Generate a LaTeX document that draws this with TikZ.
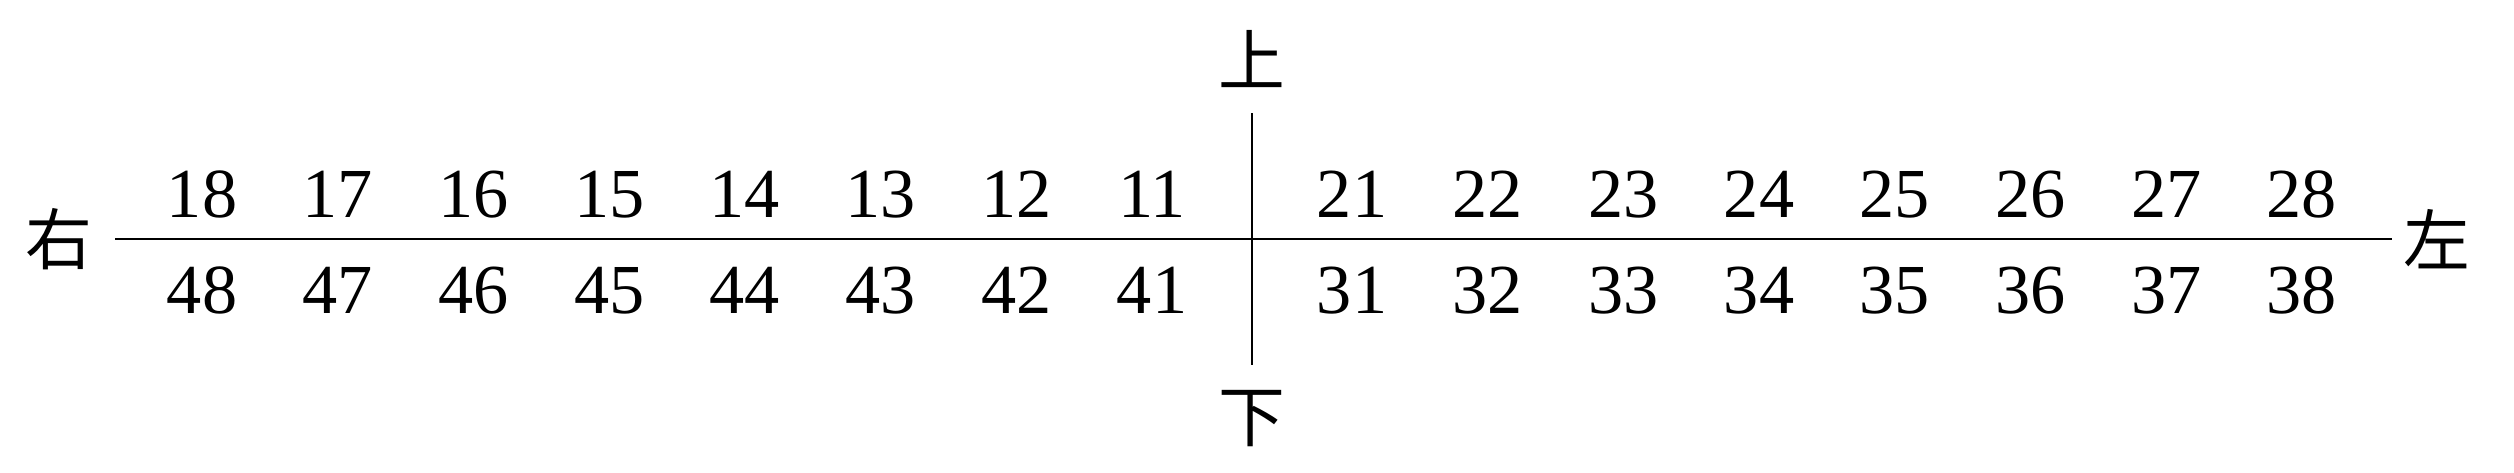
\documentclass[tikz,border=0pt]{standalone}
\usepackage{fontspec}
\setmainfont{Liberation Serif}
\newfontfamily\cjk{Noto Sans CJK SC}
\begin{document}
\begin{tikzpicture}[
  tooth/.style={anchor=base,inner sep=0pt,font=\fontsize{20}{24}\selectfont},
  side/.style={inner sep=0pt,font=\cjk\fontsize{19}{22}\selectfont}]
\useasboundingbox (0,0) rectangle (25.14,4.72);

\node[side] (right) at (0.59,2.33) {右};
\node[side] (left) at (24.37,2.33) {左};
\node[side] (up) at (12.52,4.13) {上};
\node[side] (down) at (12.52,0.53) {下};

\coordinate (hl) at (1.15,2.33);
\coordinate (hr) at (23.92,2.33);
\coordinate (vt) at (12.52,3.59);
\coordinate (vb) at (12.52,1.07);

% upper and lower teeth
\foreach \i in {1,...,8} {
  \node[tooth] (u1\i) at (11.52-1.357*\i+1.357,2.55) {1\i};
  \node[tooth] (d4\i) at (11.52-1.357*\i+1.357,1.59) {4\i};
  \node[tooth] (u2\i) at (13.52+1.357*\i-1.357,2.55) {2\i};
  \node[tooth] (d3\i) at (13.52+1.357*\i-1.357,1.59) {3\i};
}

\draw[line width=0.8pt] (hl)--(hr);
\draw[line width=0.6pt] (vt)--(vb);
\end{tikzpicture}
\end{document}
